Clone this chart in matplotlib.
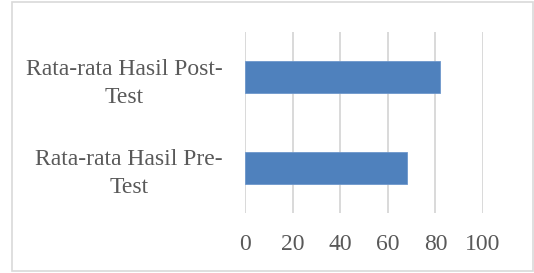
import matplotlib.pyplot as plt
from matplotlib.patches import Rectangle

# Data
categories = ['Rata-rata Hasil Pre-\nTest', 'Rata-rata Hasil Post-\nTest']
values = [68, 82]
xticks = [0, 20, 40, 60, 80, 100]

plt.rcParams['font.family'] = ['Liberation Serif', 'DejaVu Serif']

fig = plt.figure(figsize=(5.34, 2.73), dpi=100)
ax = fig.add_axes([0.4588, 0.2198, 0.4457, 0.663])

# Border around the chart area
fig.patches.append(Rectangle((0.022, 0.008), 0.976, 0.984, transform=fig.transFigure,
                             fill=False, edgecolor='#d9d9d9', linewidth=1.2))

ax.barh(range(len(categories)), values, height=0.35, color='#4f81bd',
        edgecolor='#6d97cc', linewidth=0.6, zorder=3)

ax.set_xlim(0, 100)
ax.set_ylim(-0.5, 1.5)
ax.set_xticks(xticks)
ax.set_xticklabels([str(t) for t in xticks])
ax.set_yticks(range(len(categories)))
ax.set_yticklabels(categories)
for lbl in ax.get_yticklabels():
    lbl.set_multialignment('center')
    lbl.set_linespacing(1.45)

ax.grid(axis='x', color='#d9d9d9', linewidth=1.4, zorder=0)
ax.tick_params(axis='both', length=0, labelsize=17, labelcolor='#595959')
ax.tick_params(axis='y', pad=16)
ax.tick_params(axis='x', pad=15)
for s in ax.spines.values():
    s.set_visible(False)

fig.savefig('out.png', dpi=100)
